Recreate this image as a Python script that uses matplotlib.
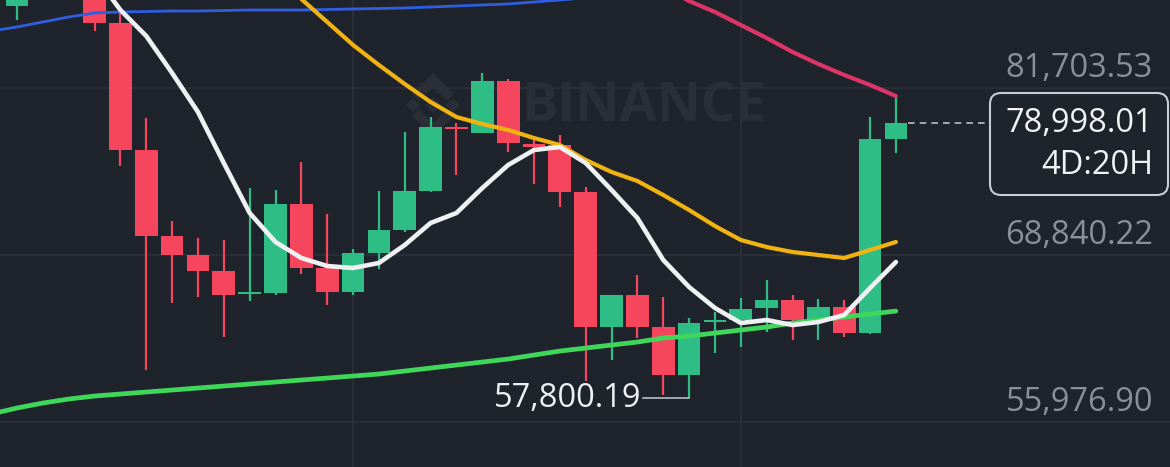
import numpy as np
import matplotlib.pyplot as plt
from matplotlib.patches import FancyBboxPatch, Polygon
from matplotlib.transforms import blended_transform_factory

# candles: open, high, low, close
opens = [88020, 89250, 91000, 90600, 86710, 76928, 70303, 68839, 67607, 65835,
         65912, 72767, 67838, 65989, 68993, 70765, 73769, 78660, 78237, 82243,
         77390, 77313, 73692, 63293, 65758, 63293, 59596, 63678, 63832, 64757,
         65373, 63832, 64834, 62831, 77775]
highs = [90023, 92000, 93500, 91200, 87481, 79393, 71459, 70149, 69995, 74000,
         73846, 76003, 71998, 69302, 73769, 78314, 79469, 79007, 82858, 82397,
         77698, 78083, 74077, 65758, 67299, 65604, 63986, 64448, 65527, 66913,
         65758, 65450, 65373, 79469, 81010]
lows = [86941, 88900, 89500, 86094, 75695, 59981, 65142, 65604, 62523, 65296,
        65758, 67376, 64988, 65758, 67761, 70611, 73692, 75002, 78237, 76774,
        74308, 72537, 59134, 60751, 62446, 58055, 57800.19, 61290, 61752, 62908,
        62292, 62292, 62523, 62754, 76697]
closes = [89252, 91000, 90600, 86710, 76928, 70303, 68839, 67607, 65758, 65989,
          72767, 67838, 65989, 68993, 70765, 73769, 78699, 78583, 82243, 77467,
          77197, 73692, 63293, 65758, 63293, 59596, 63601, 63832, 64680, 65373,
          63832, 64834, 62831, 77775, 78998.01]

# moving averages (start index, values)
ma_blue_start = -1
ma_blue = [86094, 86402, 86787, 87172, 87481, 87558, 87596, 87635, 87635, 87673,
           87712, 87712, 87712, 87750, 87789, 87827, 87866, 87943, 88020, 88097,
           88174, 88328, 88482, 88636]
ma_pink_start = 24
ma_pink = [90408, 89406, 88405, 87558, 86556, 85555, 84477, 83552, 82705, 81935, 81087]
ma_orange_start = 10
ma_orange = [90408, 88559, 86787, 85016, 83475, 82011, 80625, 79470, 78930, 78468,
             77852, 77313, 76157, 75233, 74540, 73461, 72306, 71073, 69995, 69455,
             69070, 68839, 68608, 69224, 69841]
ma_white_start = 3
ma_white = [90408, 87712, 85709, 82859, 79855, 75926, 72075, 69841, 68608, 67992,
            67838, 68224, 69610, 71305, 72075, 74000, 75772, 76927, 77159, 75926,
            73846, 71689, 68454, 66374, 64757, 63601, 63832, 63447, 63678, 64217,
            66297, 68300]
ma_green_start = -1
ma_green = [56590, 57052, 57437, 57745, 57976, 58130, 58284, 58438, 58592, 58746,
            58900, 59054, 59208, 59362, 59516, 59670, 59901, 60132, 60363, 60594,
            60825, 61133, 61441, 61672, 61903, 62134, 62442, 62596, 62827, 63058,
            63289, 63597, 63828, 64059, 64290, 64521]

grid_prices = [81703.53, 68840.22, 55976.90]
grid_labels = ["81,703.53", "68,840.22", "55,976.90"]
vgrid_idx = [13, 28]
countdown = "4D:20H"

BG = "#1f232c"
GRID = "#2c313b"
WM = "#2a2e37"
UP = "#2ebd85"
DOWN = "#f6465d"
W, H = 1170, 467

fig = plt.figure(figsize=(11.7, 4.67), dpi=100, facecolor=BG)
ax = fig.add_axes([0, 0, 1, 1])
ax.set_facecolor(BG)
ax.set_axis_off()

px_per_bar = 25.85
ax.set_xlim(-17 / px_per_bar, (W - 17) / px_per_bar)
ax.set_ylim(52509, 88482)

for p in grid_prices:
    ax.axhline(p, color=GRID, lw=1.2, zorder=0)
for v in vgrid_idx:
    ax.axvline(v, color=GRID, lw=1.2, zorder=0)

# watermark (pixel coords, top-left origin flipped)
ax.text(521, H - 108, "BINANCE", transform=None, fontsize=39, fontweight="bold",
        family="Open Sans", color=WM, ha="left", va="center", zorder=0.5)


def wm_poly(pts):
    ax.add_patch(Polygon([(x, H - y) for x, y in pts], closed=True, transform=None,
                         facecolor=WM, edgecolor="none", zorder=0.5))


cx, cy = 433, 105
wm_poly([(cx - 8, cy), (cx, cy - 8), (cx + 8, cy), (cx, cy + 8)])
wm_poly([(cx - 27, cy), (cx - 20, cy - 7), (cx - 13, cy), (cx - 20, cy + 7)])
wm_poly([(cx + 13, cy), (cx + 20, cy - 7), (cx + 27, cy), (cx + 20, cy + 7)])
wm_poly([(cx - 21, cy - 11), (cx, cy - 32), (cx + 21, cy - 11), (cx + 14, cy - 4),
         (cx, cy - 18), (cx - 14, cy - 4)])
wm_poly([(cx - 21, cy + 11), (cx, cy + 32), (cx + 21, cy + 11), (cx + 14, cy + 4),
         (cx, cy + 18), (cx - 14, cy + 4)])

# candles
idx = np.arange(len(opens))
o = np.array(opens)
c = np.array(closes)
colors = [UP if cc >= oo else DOWN for oo, cc in zip(o, c)]
ax.vlines(idx, lows, highs, colors=colors, lw=1.6, zorder=2)
ax.bar(idx, np.maximum(np.abs(c - o), 120), bottom=np.minimum(o, c), width=0.88,
       color=colors, linewidth=0, zorder=2)


def ma(start, vals, color, lw):
    xs = np.arange(start, start + len(vals))
    ax.plot(xs, vals, color=color, lw=lw, zorder=3, solid_capstyle="round")


ma(ma_blue_start, ma_blue, "#2f5fe0", 2.0)
ma(ma_green_start, ma_green, "#3fd75a", 3.4)
ma(ma_orange_start, ma_orange, "#f0b312", 3.0)
ma(ma_pink_start, ma_pink, "#dc3566", 3.0)
ma(ma_white_start, ma_white, "#eef0f2", 3.3)

# right price labels
trans = blended_transform_factory(ax.transAxes, ax.transData)
for p, lab in zip(grid_prices, grid_labels):
    ax.annotate(lab, (1153 / W, p), xycoords=trans, xytext=(0, 3),
                textcoords="offset pixels", ha="right", va="bottom",
                fontsize=23.5, family="Open Sans", color="#8a909a", zorder=4)

# last price dashed line + box
last = closes[-1]
ax.plot([idx[-1] + 0.46, (988 - 17) / px_per_bar], [last, last], color="#b9bec6",
        lw=1.2, ls=(0, (4, 3)), zorder=3)
box = FancyBboxPatch((990, H - 195), 178, 102, boxstyle="round,pad=0,rounding_size=11",
                     transform=None, facecolor=BG, edgecolor="#c9cdd3", lw=1.5, zorder=4)
ax.add_patch(box)
ax.text(1153, H - 123, f"{last:,.2f}", transform=None, ha="right", va="center",
        fontsize=23.5, family="Open Sans", color="#f2f3f5", zorder=5)
ax.text(1153, H - 166, countdown, transform=None, ha="right", va="center",
        fontsize=23.5, family="Open Sans", color="#f2f3f5", zorder=5)

# lowest low annotation
lo_i = int(np.argmin(lows))
lo = lows[lo_i]
ax.plot([lo_i - 1.8, lo_i], [lo, lo], color="#b9bec6", lw=1.2, zorder=3)
ax.text(lo_i - 1.84, lo, f"{lo:,.2f}", ha="right", va="center", fontsize=23.5,
        family="Open Sans", color="#eef0f2", zorder=5)

fig.savefig("out.png", dpi=100, facecolor=BG)
